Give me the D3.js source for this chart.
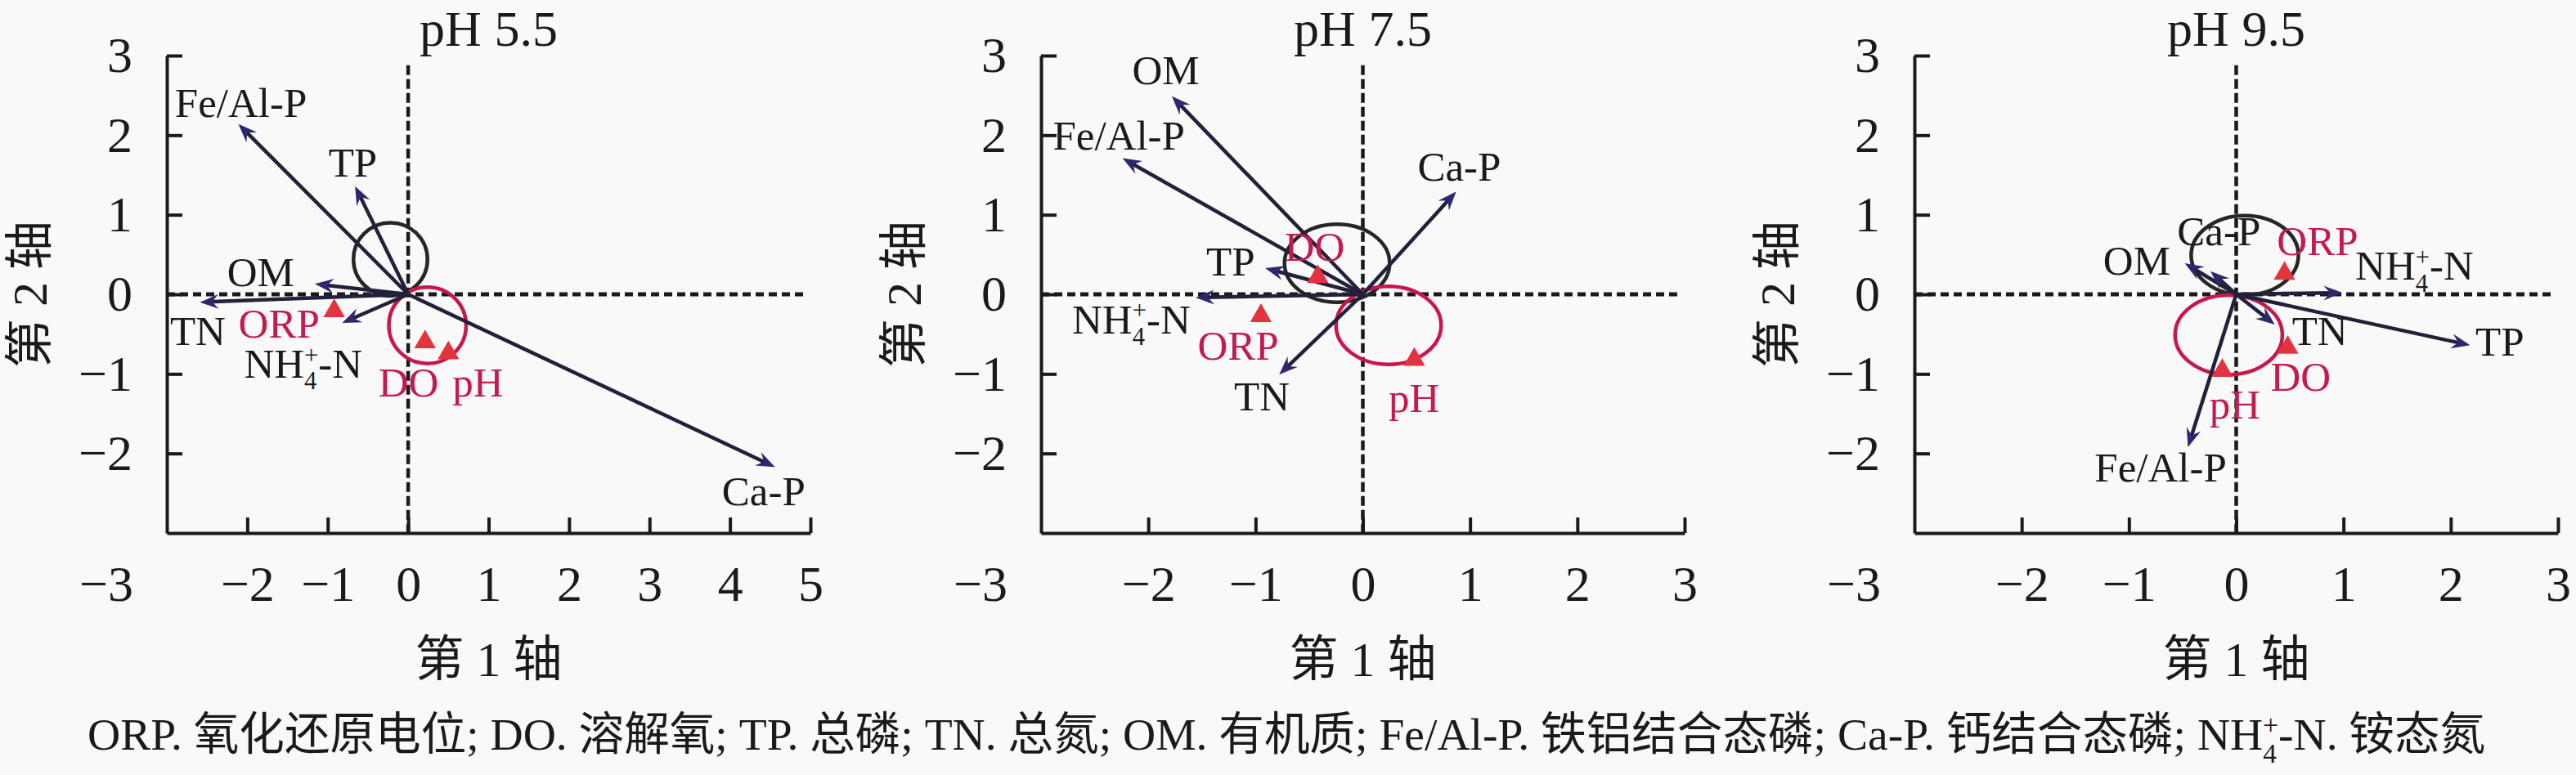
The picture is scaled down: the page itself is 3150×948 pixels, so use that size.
<!DOCTYPE html>
<html>
<head>
<meta charset="utf-8">
<script src="https://cdn.jsdelivr.net/npm/d3@7"></script>
<style>
  html, body { margin: 0; padding: 0; background: #f9f9f9; }
  svg { display: block; }
  text { font-family: "Liberation Serif", "Times New Roman", "Noto Sans CJK SC", serif; }
</style>
</head>
<body>
<svg id="chart" width="3150" height="948"></svg>
<script>
// ---- data ----
const titles = ["pH 5.5", "pH 7.5", "pH 9.5"]
const xDomains = [[-3, 5], [-3, 3], [-3, 3]]
const yDomain = [-3, 3]

// soil variable vectors: [name, axis1, axis2] (arrow tips)
const soilVectors = [
  [["Fe/Al-P", -2.11, 2.14], ["Ca-P", 4.56, -2.17], ["TP", -0.66, 1.36], ["OM", -1.16, 0.13], ["TN", -2.59, -0.10], ["NH4", -0.82, -0.36]],
  [["OM", -1.78, 2.49], ["Fe/Al-P", -2.24, 1.71], ["Ca-P", 0.87, 1.29], ["TP", -0.91, 0.33], ["NH4", -1.56, -0.04], ["TN", -0.78, -1.01]],
  [["OM", -0.48, 0.39], ["Ca-P", -0.24, 0.29], ["NH4", 0.99, 0.02], ["TP", 2.18, -0.64], ["TN", 0.36, -0.38], ["Fe/Al-P", -0.45, -1.92]]
]

// environmental factors: [name, axis1, axis2]
const envPoints = [
  [["ORP", -0.92, -0.21], ["DO", 0.21, -0.60], ["pH", 0.50, -0.74]],
  [["DO", -0.42, 0.22], ["ORP", -0.95, -0.27], ["pH", 0.48, -0.82]],
  [["ORP", 0.45, 0.26], ["DO", 0.48, -0.67], ["pH", -0.13, -0.96]]
]

// circles: [centre axis1, centre axis2, radius] -- soil variables / environment
const soilCircles = [[-0.22, 0.44, 0.46], [-0.24, 0.39, 0.49], [0.08, 0.49, 0.5]]
const envCircles = [[0.24, -0.39, 0.48], [0.24, -0.39, 0.49], [-0.07, -0.51, 0.5]]

// label anchors (start of text, on baseline) in axis units
const soilLabels = [
  [["Fe/Al-P", -2.90, 2.23], ["TP", -0.99, 1.48], ["OM", -2.25, 0.10], ["TN", -2.96, -0.64], ["NH4", -2.04, -1.05], ["Ca-P", 3.90, -2.65]],
  [["OM", -2.15, 2.64], ["Fe/Al-P", -2.89, 1.82], ["Ca-P", 0.51, 1.43], ["TP", -1.46, 0.24], ["NH4", -2.71, -0.49], ["TN", -1.20, -1.46]],
  [["Ca-P", -0.55, 0.62], ["OM", -1.24, 0.25], ["NH4", 1.11, 0.18], ["TN", 0.52, -0.64], ["TP", 2.23, -0.77], ["Fe/Al-P", -1.32, -2.35]]
]
const envLabels = [
  [["ORP", -2.11, -0.54], ["DO", -0.37, -1.28], ["pH", 0.55, -1.28]],
  [["DO", -0.73, 0.42], ["ORP", -1.54, -0.82], ["pH", 0.24, -1.48]],
  [["ORP", 0.38, 0.49], ["DO", 0.32, -1.21], ["pH", -0.25, -1.56]]
]

const captionParts = ["ORP. 氧化还原电位; DO. 溶解氧; TP. 总磷; TN. 总氮; OM. 有机质; Fe/Al-P. 铁铝结合态磷; Ca-P. 钙结合态磷; ", "NH4", ". 铵态氮"]

// ---- layout ----
const W = 3150, H = 948
const plotLeft = [204, 1273, 2341]
const plotRight = [991, 2060, 3128]
const plotTop = 68, plotBottom = 652

const ink = "#1a1a1a"
const navy = "#2c2870"
const shaft = "#22203a"
const redText = "#c41a4c"
const redFill = "#e2343f"
const redLine = "#c8174a"
const serif = "'Liberation Serif', 'Times New Roman', 'Noto Sans CJK SC', serif"
const labelSize = 51
const tickSize = 62
const fmt = d3.format("d")

const svg = d3.select("#chart")
svg.append("rect").attr("width", W).attr("height", H).attr("fill", "#f9f9f9")

svg.append("defs").append("marker")
  .attr("id", "head")
  .attr("markerUnits", "userSpaceOnUse")
  .attr("viewBox", "-26 -12 28 24")
  .attr("refX", 0).attr("refY", 0)
  .attr("markerWidth", 28).attr("markerHeight", 24)
  .attr("orient", "auto")
  .append("path")
  .attr("d", "M0,0L-23,-9L-15,0L-23,9Z")
  .attr("fill", navy)

// writes NH4+-N with stacked sub/superscript
function nh4(text, fs) {
  text.append("tspan").text("NH")
  text.append("tspan").attr("font-size", fs * 0.6).attr("dy", fs * 0.28).text("4")
  text.append("tspan").attr("font-size", fs * 0.6).attr("dx", -fs * 0.3).attr("dy", -fs * 0.62).text("+")
  text.append("tspan").attr("dy", fs * 0.34).text("-N")
}

function label(g, name, px, py, color) {
  const t = g.append("text")
    .attr("x", px).attr("y", py)
    .attr("font-family", serif)
    .attr("font-size", labelSize)
    .attr("fill", color)
  if (name === "NH4") nh4(t, labelSize)
  else t.text(name)
}

titles.forEach((title, i) => {
  const x = d3.scaleLinear().domain(xDomains[i]).range([plotLeft[i], plotRight[i]])
  const y = d3.scaleLinear().domain(yDomain).range([plotBottom, plotTop])
  const g = svg.append("g").attr("id", "panel-" + i)
  const [x0, x1] = xDomains[i]

  // axes, ticks pointing inward
  const yAxis = g.append("g")
    .attr("transform", `translate(${x(x0)},0)`)
    .call(d3.axisLeft(y).tickValues(d3.range(-2, 4)).tickFormat(fmt)
      .tickSize(-19).tickSizeOuter(0).tickPadding(42))
  const xAxis = g.append("g")
    .attr("transform", `translate(0,${y(-3)})`)
    .call(d3.axisBottom(x).tickValues(d3.range(-2, x1 + 1)).tickFormat(fmt)
      .tickSize(-19).tickSizeOuter(0).tickPadding(39))
  ;[yAxis, xAxis].forEach(a => {
    a.attr("font-family", serif).attr("font-size", tickSize)
    a.selectAll("path, line").attr("stroke", ink).attr("stroke-width", 4)
    a.selectAll("text").attr("fill", ink)
  })
  // shared corner label
  g.append("text")
    .attr("x", x(x0) - 74).attr("y", y(-3) + 83)
    .attr("text-anchor", "middle")
    .attr("font-family", serif)
    .attr("font-size", tickSize).attr("fill", ink)
    .text(fmt(-3))

  // zero lines
  g.append("line")
    .attr("x1", x(0)).attr("x2", x(0))
    .attr("y1", y(2.88)).attr("y2", y(-3))
    .attr("stroke", ink).attr("stroke-width", 4.5)
    .attr("stroke-dasharray", "12 5")
  g.append("line")
    .attr("x1", x(x0)).attr("x2", x(x1) - 7)
    .attr("y1", y(0)).attr("y2", y(0))
    .attr("stroke", ink).attr("stroke-width", 5)
    .attr("stroke-dasharray", "10 6")

  // circles
  const ellipse = (c, color) => g.append("ellipse")
    .attr("cx", x(c[0])).attr("cy", y(c[1]))
    .attr("rx", x(c[2]) - x(0)).attr("ry", y(0) - y(c[2]))
    .attr("fill", "none").attr("stroke", color).attr("stroke-width", 4.5)
  ellipse(soilCircles[i], "#262626")
  ellipse(envCircles[i], redLine)

  // soil variable arrows
  soilVectors[i].forEach(([name, a, b]) => {
    const tx = x(a), ty = y(b), ox = x(0), oy = y(0)
    const len = Math.hypot(tx - ox, ty - oy)
    const back = 10 / len
    g.append("line")
      .attr("x1", ox).attr("y1", oy)
      .attr("x2", tx - (tx - ox) * back).attr("y2", ty - (ty - oy) * back)
      .attr("stroke", shaft).attr("stroke-width", 4.5)
    g.append("line")
      .attr("x1", tx - (tx - ox) * back).attr("y1", ty - (ty - oy) * back)
      .attr("x2", tx).attr("y2", ty)
      .attr("stroke", "none")
      .attr("marker-end", "url(#head)")
  })

  // environmental factors
  g.selectAll(".env")
    .data(envPoints[i])
    .enter().append("path")
    .attr("class", "env")
    .attr("transform", d => `translate(${x(d[1])},${y(d[2])})`)
    .attr("d", d3.symbol(d3.symbolTriangle, 300))
    .attr("fill", redFill)

  // labels
  soilLabels[i].forEach(([name, a, b]) => label(g, name, x(a), y(b), ink))
  envLabels[i].forEach(([name, a, b]) => label(g, name, x(a), y(b), redText))

  // titles
  const cx = (plotLeft[i] + plotRight[i]) / 2
  g.append("text")
    .attr("x", cx).attr("y", 56)
    .attr("text-anchor", "middle")
    .attr("font-family", serif)
    .attr("font-size", 62).attr("fill", ink)
    .text(title)
  g.append("text")
    .attr("x", cx).attr("y", 827)
    .attr("text-anchor", "middle")
    .attr("font-family", serif)
    .attr("font-size", 60).attr("fill", ink)
    .text("第 1 轴")
  g.append("text")
    .attr("transform", `translate(${plotLeft[i] - 147},${(plotTop + plotBottom) / 2}) rotate(-90)`)
    .attr("text-anchor", "middle")
    .attr("font-family", serif)
    .attr("font-size", 60).attr("fill", ink)
    .text("第 2 轴")
})

// caption, fitted to the width it takes in the figure
function caption(fs) {
  const t = svg.append("text")
    .attr("x", 107).attr("y", 917)
    .attr("font-family", serif)
    .attr("font-size", fs).attr("fill", ink)
  captionParts.forEach(p => {
    if (p === "NH4") nh4(t, fs)
    else t.append("tspan").text(p)
  })
  return t
}
let cap = caption(52)
const capW = cap.node().getBBox().width
cap.remove()
caption(52 * 2933 / capW)
</script>
</body>
</html>
